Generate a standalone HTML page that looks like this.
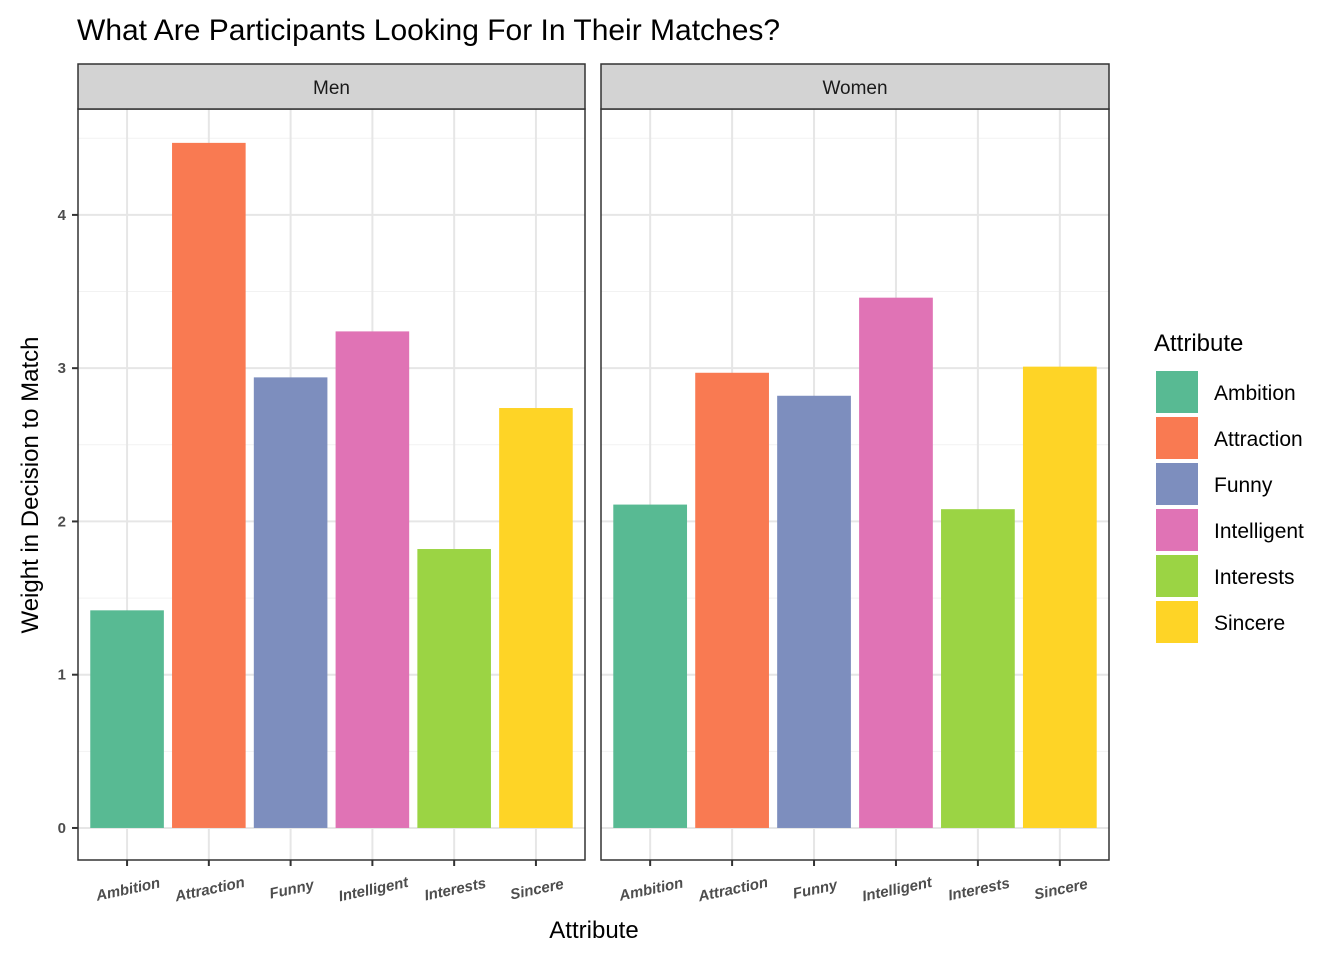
<!DOCTYPE html>
<html><head><meta charset="utf-8"><style>
body{margin:0;background:#fff;}
svg text{font-family:"Liberation Sans",sans-serif;}
</style></head><body>
<svg id="chart" width="1344" height="960" xmlns="http://www.w3.org/2000/svg">
<text x="77" y="40" font-size="30" fill="#000">What Are Participants Looking For In Their Matches?</text>
<text transform="translate(38,485) rotate(-90)" text-anchor="middle" font-size="24">Weight in Decision to Match</text>
<text x="594" y="938" text-anchor="middle" font-size="24">Attribute</text>
<g id="panels"></g>
<g id="legend">
<text x="1154" y="351" font-size="24">Attribute</text>
</g>
</svg>
<script>
const categories=["Ambition","Attraction","Funny","Intelligent","Interests","Sincere"];
const colors=["#58BA93","#F97A52","#7D8EBE","#E073B5","#9BD444","#FED426"];
const panelNames=["Men","Women"];
const menValues=[1.42,4.47,2.94,3.24,1.82,2.74];
const womenValues=[2.11,2.97,2.82,3.46,2.08,3.01];
const yTicks=[0,1,2,3,4];
const ns="http://www.w3.org/2000/svg";
const svgRoot=document.getElementById('panels');
function el(t,a,p){const e=document.createElementNS(ns,t);for(const k in a)e.setAttribute(k,a[k]);(p||svgRoot).appendChild(e);return e;}
const plotTop=109,plotBottom=860;
const yMin=-0.209,yMax=4.691;
function y(v){return plotBottom-(v-yMin)/(yMax-yMin)*(plotBottom-plotTop);}
const panels=[{x0:78,x1:585,vals:menValues},{x0:601,x1:1109,vals:womenValues}];
panels.forEach((p,pi)=>{
  const w=p.x1-p.x0,bw=w/6.2;
  const x=i=>p.x0+(i+1-0.4)*bw;
  const g=el('g',{});
  
  
  for(let v=0.5;v<4.6;v+=1){el('line',{x1:p.x0,x2:p.x1,y1:y(v),y2:y(v),stroke:'#f2f2f2','stroke-width':1},g);}
  yTicks.forEach(v=>{el('line',{x1:p.x0,x2:p.x1,y1:y(v),y2:y(v),stroke:'#e6e6e6','stroke-width':2},g);});
  categories.forEach((c,i)=>{el('line',{x1:x(i),x2:x(i),y1:plotTop,y2:plotBottom,stroke:'#e6e6e6','stroke-width':2},g);});
  categories.forEach((c,i)=>{
    const r=el('rect',{x:x(i)-bw*0.45,width:bw*0.9,y:y(p.vals[i]),height:y(0)-y(p.vals[i]),fill:colors[i]},g);
    
    
    el('line',{x1:x(i),x2:x(i),y1:plotBottom,y2:plotBottom+6,stroke:'#333','stroke-width':2},g);
    const t=el('text',{transform:`translate(${x(i)+2},${plotBottom+34}) rotate(-12)`,'text-anchor':'middle','font-size':15,'font-weight':'bold','font-style':'italic',fill:'#4d4d4d'},g);
    t.textContent=c;
    
    
  });
  el('rect',{x:p.x0,y:plotTop,width:w,height:plotBottom-plotTop,fill:'none',stroke:'#333','stroke-width':1.5},g);
  el('rect',{x:p.x0,y:64,width:w,height:45,fill:'#d3d3d3',stroke:'#333','stroke-width':1.5},g);
  const st=el('text',{x:(p.x0+p.x1)/2,y:94,'text-anchor':'middle','font-size':19,fill:'#1a1a1a'},g);
  st.textContent=panelNames[pi];
  
  
  if(pi===0){yTicks.forEach(v=>{
    el('line',{x1:p.x0-6,x2:p.x0,y1:y(v),y2:y(v),stroke:'#333','stroke-width':2},g);
    const t=el('text',{x:p.x0-12,y:y(v)+5,'text-anchor':'end','font-size':15,'font-weight':'bold',fill:'#4d4d4d'},g);
    t.textContent=v;
    
    
  });}
});
const lg=document.getElementById('legend');
categories.forEach((c,i)=>{
  const yy=371+i*46;
  const r=el('rect',{x:1156,y:yy,width:42,height:42,fill:colors[i]},lg);
  
  
  const t=el('text',{x:1214,y:yy+29,'font-size':21,fill:'#000'},lg);
  t.textContent=c;
  
  
});
</script>
</body></html>
